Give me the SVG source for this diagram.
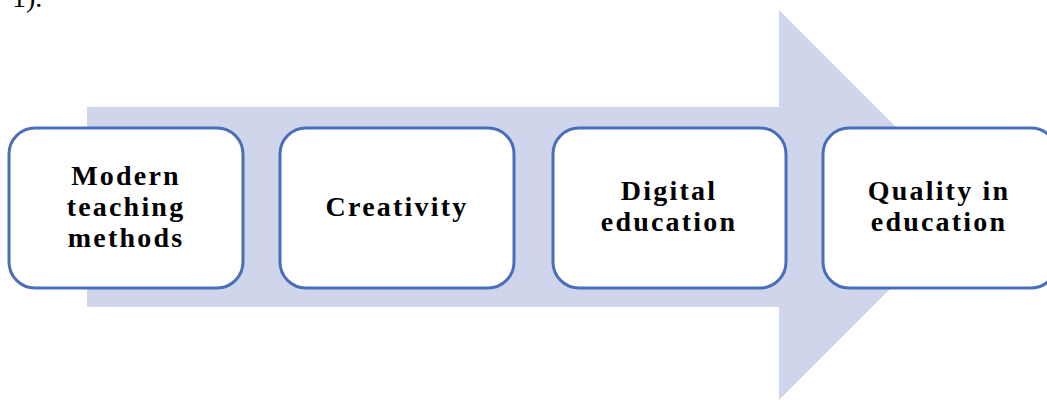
<svg xmlns="http://www.w3.org/2000/svg" width="1047" height="402" viewBox="0 0 1047 402">
  <style>
    .box { fill: #ffffff; stroke: #4a6fb8; stroke-width: 3; }
    .label { font-family: "Liberation Serif", "Times New Roman", serif; font-weight: bold; font-size: 28px; letter-spacing: 2.2px; fill: #000000; text-anchor: middle; }
  </style>
  <rect width="1047" height="402" fill="#ffffff"/>
  <!-- clipped caption fragment at the top edge -->
  <text x="12" y="7" font-family="Liberation Serif, serif" font-size="28" fill="#000000">1).</text>
  <!-- background block arrow -->
  <g id="connectors">
    <polygon points="87,107 779,107 779,10 974,205 779,400 779,307 87,307" fill="#cfd5ea"/>
  </g>
  <g id="node1">
    <rect class="box" x="9" y="128" width="234" height="160" rx="26"/>
    <text class="label" x="126" y="185">Modern</text>
    <text class="label" x="126" y="216">teaching</text>
    <text class="label" x="126" y="247">methods</text>
  </g>
  <g id="node2">
    <rect class="box" x="280" y="128" width="234" height="160" rx="26"/>
    <text class="label" x="397" y="216">Creativity</text>
  </g>
  <g id="node3">
    <rect class="box" x="553" y="128" width="233" height="160" rx="26"/>
    <text class="label" x="669" y="200">Digital</text>
    <text class="label" x="669" y="231">education</text>
  </g>
  <g id="node4">
    <rect class="box" x="823" y="128" width="234" height="160" rx="26"/>
    <text class="label" x="939" y="200">Quality in</text>
    <text class="label" x="939" y="231">education</text>
  </g>
</svg>
